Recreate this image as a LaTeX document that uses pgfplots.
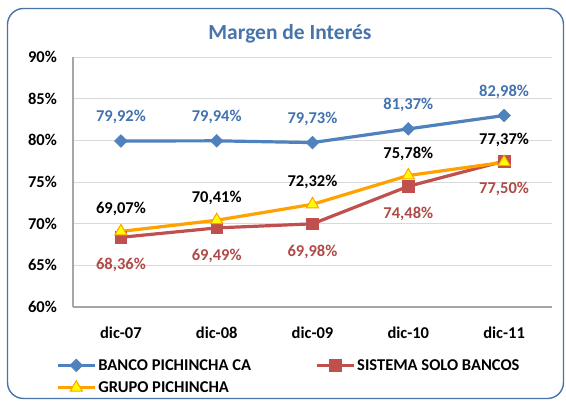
\documentclass[border=0pt]{standalone}
\usepackage{fontspec}
\setmainfont{Carlito}
\usepackage{pgfplots}
\pgfplotsset{compat=1.18}
\definecolor{bblue}{HTML}{4F81BD}
\definecolor{lblue}{HTML}{4272B0}
\definecolor{bred}{HTML}{C0504D}
\definecolor{lred}{HTML}{B04A47}
\definecolor{borange}{HTML}{FFA200}
\definecolor{byellow}{HTML}{FFFF00}
\definecolor{frame}{HTML}{4A74A8}
\newcommand\lab{\fontsize{16.5}{19}\selectfont\bfseries}
\newcommand\ttl{\fontsize{21.5}{24}\selectfont\bfseries}
\begin{document}
\begin{tikzpicture}
\useasboundingbox (0,0) rectangle (566pt,401pt);
\fill[white] (0,0) rectangle (566pt,401pt);
\draw[frame, line width=1.4pt, rounded corners=16pt] (7.5pt,2.5pt) rectangle (563.5pt,392.5pt);
\node[font=\ttl, text=bblue!90!black, anchor=base] at (290pt,361pt) {Margen de Interés};
\begin{axis}[
  at={(73pt,94pt)}, anchor=south west,
  scale only axis, width=479pt, height=250pt,
  xmin=-0.5, xmax=4.5, ymin=60, ymax=90,
  xtick={0,1,2,3,4}, xticklabels={dic-07,dic-08,dic-09,dic-10,dic-11},
  ytick={60,65,70,75,80,85,90},
  yticklabel={\pgfmathprintnumber{\tick}\%},
  /pgf/number format/assume math mode=true,
  major tick length=0pt,
  axis x line*=bottom, axis y line*=left,
  axis line style={draw=black!35, line width=1.3pt, -},
  ymajorgrids, grid style={draw=black!15, line width=0.9pt},
  tick label style={font=\lab, text=black},
  yticklabel style={anchor=east, inner sep=0pt, xshift=-16pt},
  xticklabel style={anchor=north, inner sep=0pt, yshift=-20pt},
  clip=false,
  point meta=explicit symbolic,
  nodes near coords,
  nodes near coords style={font=\lab, anchor=center},
  legend columns=2,
  legend style={at={(axis description cs:-0.0355,-0.20)}, anchor=north west, draw=none, fill=none, inner sep=0pt, font=\lab,
    /tikz/every even column/.append style={column sep=62pt}, row sep=6pt, cells={anchor=west}},
  legend image code/.code={\draw[mark repeat=2,mark phase=2,#1] plot coordinates {(0pt,0pt) (18.5pt,0pt) (37pt,0pt)};},
]
\addplot[bblue, line width=3.2pt, mark=square*, mark size=4.5pt, mark options={rotate=45, fill=bblue, draw=bblue, line width=0.5pt},
  every node near coord/.append style={text=lblue, yshift=24pt}]
  coordinates {(0,79.92) [79,92\%] (1,79.94) [79,94\%] (2,79.73) [79,73\%] (3,81.37) [81,37\%] (4,82.98) [82,98\%]};
\addlegendentry{BANCO PICHINCHA CA}
\addplot[bred, line width=3.2pt, mark=square*, mark size=5.8pt, mark options={fill=bred, draw=bred, line width=0.5pt},
  every node near coord/.append style={text=lred, yshift=-28pt}]
  coordinates {(0,68.36) [68,36\%] (1,69.49) [69,49\%] (2,69.98) [69,98\%] (3,74.48) [74,48\%] (4,77.50) [77,50\%]};
\addlegendentry{SISTEMA SOLO BANCOS}
\addplot[borange, line width=3.2pt, mark=triangle*, mark size=7pt, mark options={fill=byellow, draw=borange, line width=1pt},
  every node near coord/.append style={text=black, yshift=22pt}]
  coordinates {(0,69.07) [69,07\%] (1,70.41) [70,41\%] (2,72.32) [72,32\%] (3,75.78) [75,78\%] (4,77.37) [77,37\%]};
\addlegendentry{GRUPO PICHINCHA}
\end{axis}
\end{tikzpicture}
\end{document}
